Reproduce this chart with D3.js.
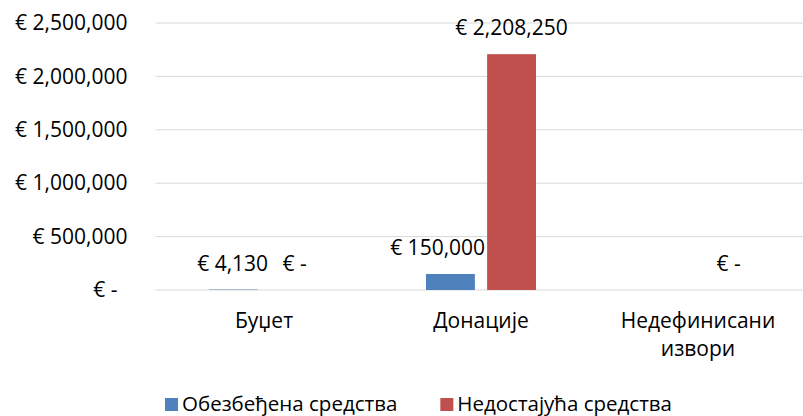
<!DOCTYPE html>
<html>
<head>
<meta charset="utf-8">
<script src="https://cdn.jsdelivr.net/npm/d3@7"></script>
<style>
  body { margin: 0; background: #fff; }
  text { font-family: "Open Sans", "DejaVu Sans", sans-serif; fill: #000; }
</style>
</head>
<body>
<svg id="chart"></svg>
<script>
const categories = ["Буџет", "Донације", "Недефинисани|извори"];
const seriesNames = ["Обезбеђена средства", "Недостајућа средства"];
const seriesColors = ["#4f81bd", "#c0504d"];
const secured = [4130, 150000, null];
const missing = [0, 2208250, 0];
const yTicks = [0, 500000, 1000000, 1500000, 2000000, 2500000];

const width = 803, height = 416;
const fontSize = 21;
const plot = { left: 155.5, right: 806.5, top: 23, bottom: 290 };

const svg = d3.select("#chart").attr("width", width).attr("height", height);

const x0 = d3.scaleBand().domain(categories)
  .range([plot.left, plot.right]).paddingInner(0.493).paddingOuter(0.2465);
const x1 = d3.scaleBand().domain([0, 1])
  .range([0, x0.bandwidth()]).paddingInner(0.2).paddingOuter(0);
const y = d3.scaleLinear().domain([0, 2500000]).range([plot.bottom, plot.top]);

const euro = v => v === 0 ? "€ -" : "€ " + d3.format(",")(v);

// gridlines
svg.append("g").selectAll("line").data(yTicks).enter().append("line")
  .attr("x1", plot.left).attr("x2", width)
  .attr("y1", d => y(d)).attr("y2", d => y(d))
  .attr("stroke", "#d9d9d9").attr("stroke-width", 1);

// y axis labels
const yAxis = svg.append("g")
  .attr("transform", `translate(${plot.left - 18},0)`)
  .call(d3.axisLeft(y).tickValues(yTicks).tickSize(0).tickPadding(10).tickFormat(euro));
yAxis.select(".domain").remove();
yAxis.selectAll("text")
  .style("font-family", '"Open Sans", sans-serif').style("font-size", fontSize + "px")
  .attr("fill", "#000")
  .attr("dx", d => d === 0 ? -10 : 0);

// bars
const rows = categories.map((c, i) => ({ cat: c, vals: [secured[i], missing[i]] }));
const groups = svg.selectAll(".grp").data(rows).enter().append("g")
  .attr("transform", d => `translate(${x0(d.cat)},0)`);

groups.selectAll("rect").data(d => d.vals.map((v, k) => ({ v, k })))
  .enter().append("rect")
  .filter(d => d.v !== null)
  .attr("x", d => x1(d.k))
  .attr("width", x1.bandwidth())
  .attr("y", d => y(d.v))
  .attr("height", d => y(0) - y(d.v))
  .attr("fill", d => seriesColors[d.k]);

// data labels
groups.each(function(row) {
  const g = d3.select(this);
  row.vals.forEach((v, k) => {
    if (v === null) return;
    const cx = x1(k) + x1.bandwidth() / 2;
    const t = g.append("text")
      .attr("x", cx).attr("y", y(v) - 19)
      .attr("text-anchor", "middle")
      .style("font-size", fontSize + "px")
      .text(euro(v));
    if (k === 0) {
      // push left if it would run into the neighbouring bar
      const w = t.node().getComputedTextLength();
      const limit = x1(1) - 2;
      if (cx + w / 2 > limit) t.attr("x", limit - w / 2);
    }
  });
});

// category labels
categories.forEach(c => {
  const lines = c.split("|");
  const t = svg.append("text")
    .attr("x", x0(c) + x0.bandwidth() / 2)
    .attr("y", 328)
    .attr("text-anchor", "middle")
    .style("font-size", fontSize + "px");
  lines.forEach((ln, i) => {
    t.append("tspan").attr("x", x0(c) + x0.bandwidth() / 2)
      .attr("dy", i === 0 ? 0 : 28).text(ln);
  });
});

// legend
const legend = svg.append("g").attr("transform", "translate(165,0)");
let lx = 0;
seriesNames.forEach((name, i) => {
  legend.append("rect").attr("x", lx).attr("y", 398).attr("width", 13).attr("height", 13)
    .attr("fill", seriesColors[i]);
  const t = legend.append("text").attr("x", lx + 17).attr("y", 411)
    .style("font-size", "20.5px").text(name);
  lx += 17 + t.node().getComputedTextLength() + 43;
});
</script>
</body>
</html>
